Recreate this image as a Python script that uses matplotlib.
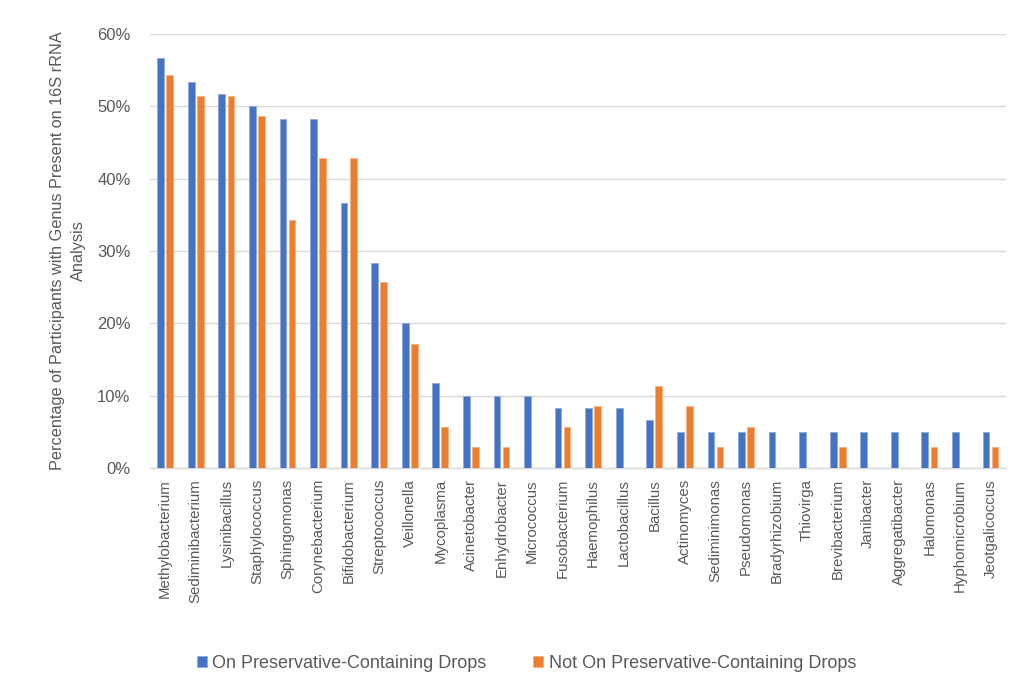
import matplotlib.pyplot as plt
import numpy as np
from matplotlib.ticker import PercentFormatter

plt.rcParams['font.family'] = ['Liberation Sans', 'DejaVu Sans']

# ── data ─────────────────────────────────────────────────────────────────────

genera = [
    "Methylobacterium", "Sediminibacterium", "Lysinibacillus", "Staphylococcus",
    "Sphingomonas", "Corynebacterium", "Bifidobacterium", "Streptococcus",
    "Veillonella", "Mycoplasma", "Acinetobacter", "Enhydrobacter", "Micrococcus",
    "Fusobacterium", "Haemophilus", "Lactobacillus", "Bacillus", "Actinomyces",
    "Sediminimonas", "Pseudomonas", "Bradyrhizobium", "Thiovirga",
    "Brevibacterium", "Janibacter", "Aggregatibacter", "Halomonas",
    "Hyphomicrobium", "Jeotgalicoccus",
]

on_drops = [
    56.7, 53.3, 51.7, 50.0, 48.3, 48.3, 36.7, 28.3, 20.0, 11.7, 10.0, 10.0, 10.0,
    8.3, 8.3, 8.3, 6.7, 5.0, 5.0, 5.0, 5.0, 5.0, 5.0, 5.0, 5.0, 5.0, 5.0, 5.0,
]

not_on_drops = [
    54.3, 51.4, 51.4, 48.6, 34.3, 42.9, 42.9, 25.7, 17.1, 5.7, 2.9, 2.9, 0.0,
    5.7, 8.6, 0.0, 11.4, 8.6, 2.9, 5.7, 0.0, 0.0, 2.9, 0.0, 0.0, 2.9, 0.0, 2.9,
]

series_labels = ["On Preservative-Containing Drops", "Not On Preservative-Containing Drops"]

BLUE = "#4472C4"
ORANGE = "#ED7D31"
GRID = "#D9D9D9"
TEXT = "#595959"

# ── plot ─────────────────────────────────────────────────────────────────────

fig = plt.figure(figsize=(10.18, 6.89), dpi=100)
ax = fig.add_axes([0.1473, 0.3208, 0.8407, 0.6299])

x = np.arange(len(genera))
w = 0.22
off = 0.148
ax.bar(x - off, on_drops, width=w, color=BLUE, edgecolor="#8FAADC", linewidth=0.6,
       label=series_labels[0], zorder=3)
ax.bar(x + off, not_on_drops, width=w, color=ORANGE, edgecolor="#F4B183", linewidth=0.6,
       label=series_labels[1], zorder=3)

ax.set_xlim(-0.5, len(genera) - 0.5)
ax.set_ylim(0, 60)
ax.set_yticks(np.arange(0, 61, 10))
ax.yaxis.set_major_formatter(PercentFormatter(decimals=0))
ax.grid(axis="y", color=GRID, linewidth=1.0, zorder=0)

ax.set_xticks(x)
ax.set_xticklabels(genera, rotation=90, fontsize=10.8, color=TEXT)
ax.tick_params(axis="y", labelsize=12, colors=TEXT, length=0, pad=14)
ax.tick_params(axis="x", length=0, pad=8)

for side in ["top", "right", "left"]:
    ax.spines[side].set_visible(False)
ax.spines["bottom"].set_color(GRID)
ax.spines["bottom"].set_linewidth(1.0)

ax.set_ylabel("Percentage of Participants with Genus Present on 16S rRNA\nAnalysis",
              fontsize=11.7, color=TEXT, labelpad=8, linespacing=1.45)

fig.legend(loc="lower center", bbox_to_anchor=(0.517, 0.001), ncol=2, frameon=False,
           fontsize=13, handlelength=0.55, handleheight=0.55, handletextpad=0.3,
           columnspacing=2.6, labelcolor=TEXT)

fig.savefig("out.png", dpi=100)
